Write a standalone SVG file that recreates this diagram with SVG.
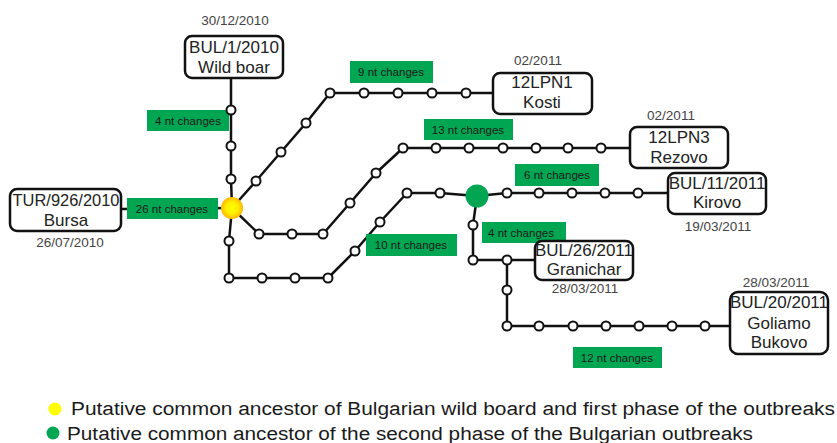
<svg xmlns="http://www.w3.org/2000/svg" width="837" height="443" viewBox="0 0 837 443">
<defs>
<radialGradient id="yg" cx="50%" cy="50%" r="50%">
<stop offset="0" stop-color="#ffff00"/>
<stop offset="0.55" stop-color="#ffee00"/>
<stop offset="1" stop-color="#ffb400"/>
</radialGradient>
<style>
.e{fill:none;stroke:#111;stroke-width:2.5;stroke-linejoin:round}
.n{fill:#fff;stroke:#111;stroke-width:2}
.box{fill:#fff;stroke:#111;stroke-width:2.5}
.bt{font-family:"Liberation Sans",Arial,sans-serif;font-size:17px;fill:#222;text-anchor:middle}
.dt{font-family:"Liberation Sans",Arial,sans-serif;font-size:13.5px;fill:#444;text-anchor:middle}
.gl{fill:#00a651}
.gt{font-family:"Liberation Sans",Arial,sans-serif;font-size:11.5px;fill:#1a1a1a;text-anchor:middle}
.lg{font-family:"Liberation Sans",Arial,sans-serif;font-size:18px;fill:#1a1a1a}
</style>
</defs>
<rect width="837" height="443" fill="#fff"/>

<g id="connectors">
<polyline class="e" points="231,78 231,110 231,146 231,179 232,208"/>
<polyline class="e" points="121,209 232,208"/>
<polyline class="e" points="232,208 256,181 281,152 306,123 330,93 364,93 398,93 432,93 466,93 493,93"/>
<polyline class="e" points="232,208 259,234 292,234 323,234 350,203 376,173 403,148 436,148 469,148 503,148 536,148 568,148 601,148 630,148"/>
<polyline class="e" points="232,208 229,241 229,278 262,278 295,278 328,278 355,251 380,222 407,193 440,193 477,196"/>
<polyline class="e" points="477,196 507,193 539,193 572,193 605,193 638,193 668,193"/>
<polyline class="e" points="477,196 473,225 473,260 507,260 535,260"/>
<polyline class="e" points="507,260 507,290 507,326 539,326 573,326 606,326 639,326 672,326 705,326 730,326"/>
</g>

<g id="labels">
<rect class="gl" x="147" y="110" width="82" height="21"/>
<text class="gt" x="188" y="125">4 nt changes</text>
<rect class="gl" x="127" y="198" width="91" height="21"/>
<text class="gt" x="172" y="213">26 nt changes</text>
<rect class="gl" x="350" y="61" width="83" height="22"/>
<text class="gt" x="391" y="76">9 nt changes</text>
<rect class="gl" x="424" y="119" width="89" height="21"/>
<text class="gt" x="468" y="134">13 nt changes</text>
<rect class="gl" x="515" y="164" width="84" height="22"/>
<text class="gt" x="557" y="179">6 nt changes</text>
<rect class="gl" x="366" y="234" width="91" height="22"/>
<text class="gt" x="411" y="249">10 nt changes</text>
<rect class="gl" x="482" y="222" width="84" height="21"/>
<text class="gt" x="521" y="237">4 nt changes</text>
<rect class="gl" x="573" y="347" width="89" height="21"/>
<text class="gt" x="617" y="362">12 nt changes</text>
</g>

<g id="small-nodes">
<circle class="n" cx="231" cy="110" r="4.5"/>
<circle class="n" cx="231" cy="146" r="4.5"/>
<circle class="n" cx="231" cy="179" r="4.5"/>
<circle class="n" cx="256" cy="181" r="4.5"/>
<circle class="n" cx="281" cy="152" r="4.5"/>
<circle class="n" cx="306" cy="123" r="4.5"/>
<circle class="n" cx="330" cy="93" r="4.5"/>
<circle class="n" cx="364" cy="93" r="4.5"/>
<circle class="n" cx="398" cy="93" r="4.5"/>
<circle class="n" cx="432" cy="93" r="4.5"/>
<circle class="n" cx="466" cy="93" r="4.5"/>
<circle class="n" cx="259" cy="234" r="4.5"/>
<circle class="n" cx="292" cy="234" r="4.5"/>
<circle class="n" cx="323" cy="234" r="4.5"/>
<circle class="n" cx="350" cy="203" r="4.5"/>
<circle class="n" cx="376" cy="173" r="4.5"/>
<circle class="n" cx="403" cy="148" r="4.5"/>
<circle class="n" cx="436" cy="148" r="4.5"/>
<circle class="n" cx="469" cy="148" r="4.5"/>
<circle class="n" cx="503" cy="148" r="4.5"/>
<circle class="n" cx="536" cy="148" r="4.5"/>
<circle class="n" cx="568" cy="148" r="4.5"/>
<circle class="n" cx="601" cy="148" r="4.5"/>
<circle class="n" cx="229" cy="241" r="4.5"/>
<circle class="n" cx="229" cy="278" r="4.5"/>
<circle class="n" cx="262" cy="278" r="4.5"/>
<circle class="n" cx="295" cy="278" r="4.5"/>
<circle class="n" cx="328" cy="278" r="4.5"/>
<circle class="n" cx="355" cy="251" r="4.5"/>
<circle class="n" cx="380" cy="222" r="4.5"/>
<circle class="n" cx="407" cy="193" r="4.5"/>
<circle class="n" cx="440" cy="193" r="4.5"/>
<circle class="n" cx="507" cy="193" r="4.5"/>
<circle class="n" cx="539" cy="193" r="4.5"/>
<circle class="n" cx="572" cy="193" r="4.5"/>
<circle class="n" cx="605" cy="193" r="4.5"/>
<circle class="n" cx="638" cy="193" r="4.5"/>
<circle class="n" cx="473" cy="225" r="4.5"/>
<circle class="n" cx="473" cy="260" r="4.5"/>
<circle class="n" cx="507" cy="260" r="4.5"/>
<circle class="n" cx="507" cy="290" r="4.5"/>
<circle class="n" cx="507" cy="326" r="4.5"/>
<circle class="n" cx="539" cy="326" r="4.5"/>
<circle class="n" cx="573" cy="326" r="4.5"/>
<circle class="n" cx="606" cy="326" r="4.5"/>
<circle class="n" cx="639" cy="326" r="4.5"/>
<circle class="n" cx="672" cy="326" r="4.5"/>
<circle class="n" cx="705" cy="326" r="4.5"/>
</g>

<g id="ancestor-yellow">
<circle cx="232" cy="208" r="11" fill="url(#yg)"/>
</g>
<g id="ancestor-green">
<circle cx="477" cy="196" r="11.5" fill="#00a651"/>
</g>

<g id="node-bul1">
<rect class="box" x="185" y="36" width="98" height="42" rx="7"/>
<text class="bt" x="234" y="53">BUL/1/2010</text>
<text class="bt" x="234" y="73">Wild boar</text>
<text class="dt" x="235" y="25">30/12/2010</text>
</g>

<g id="node-tur">
<rect class="box" x="10" y="189" width="111" height="42" rx="7"/>
<text class="bt" x="66" y="206" textLength="107" lengthAdjust="spacingAndGlyphs">TUR/926/2010</text>
<text class="bt" x="66" y="226">Bursa</text>
<text class="dt" x="70" y="247">26/07/2010</text>
</g>

<g id="node-kosti">
<rect class="box" x="493" y="73" width="99" height="41" rx="7"/>
<text class="bt" x="542" y="88">12LPN1</text>
<text class="bt" x="542" y="108">Kosti</text>
<text class="dt" x="538" y="65">02/2011</text>
</g>

<g id="node-rezovo">
<rect class="box" x="630" y="127" width="98" height="41" rx="7"/>
<text class="bt" x="679" y="143">12LPN3</text>
<text class="bt" x="679" y="163">Rezovo</text>
<text class="dt" x="671" y="120">02/2011</text>
</g>

<g id="node-kirovo">
<rect class="box" x="668" y="173" width="98" height="41" rx="7"/>
<text class="bt" x="717" y="189">BUL/11/2011</text>
<text class="bt" x="717" y="208">Kirovo</text>
<text class="dt" x="718" y="231">19/03/2011</text>
</g>

<g id="node-granichar">
<rect class="box" x="535" y="241" width="98" height="39" rx="7"/>
<text class="bt" x="584" y="256">BUL/26/2011</text>
<text class="bt" x="584" y="275">Granichar</text>
<text class="dt" x="585" y="293">28/03/2011</text>
</g>

<g id="node-goliamo">
<rect class="box" x="730" y="292" width="98" height="62" rx="8"/>
<text class="bt" x="779" y="308">BUL/20/2011</text>
<text class="bt" x="779" y="329">Goliamo</text>
<text class="bt" x="779" y="348">Bukovo</text>
<text class="dt" x="776" y="287">28/03/2011</text>
</g>

<g id="legend">
<circle cx="55" cy="409" r="6.5" fill="#ffff00"/>
<text class="lg" x="71" y="415" textLength="764" lengthAdjust="spacingAndGlyphs">Putative common ancestor of Bulgarian wild board and first phase of the outbreaks</text>
<circle cx="53" cy="433" r="6.5" fill="#00a651"/>
<text class="lg" x="67" y="440" textLength="686" lengthAdjust="spacingAndGlyphs">Putative common ancestor of the second phase of the Bulgarian outbreaks</text>
</g>
</svg>
